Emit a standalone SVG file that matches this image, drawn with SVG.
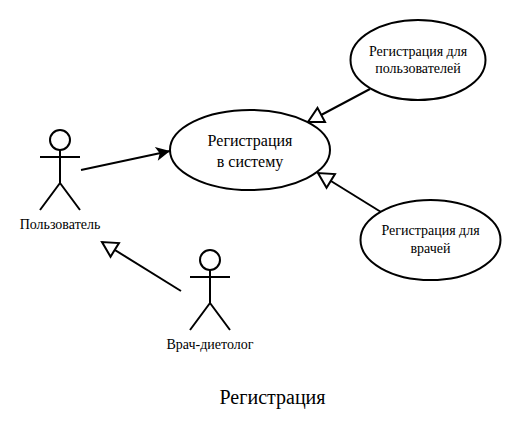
<svg xmlns="http://www.w3.org/2000/svg" width="532" height="436" viewBox="0 0 532 436">
<style>
.s{fill:#fff;stroke:#000;stroke-width:2}
.l{fill:none;stroke:#000;stroke-width:2}
text{font-family:"Liberation Serif","Times New Roman",serif;fill:#000;text-anchor:middle}
.t{font-size:14px}
.m{font-size:16px}
</style>
<defs>
<marker id="h" markerUnits="userSpaceOnUse" viewBox="0 0 20 20" refX="17" refY="10" markerWidth="20" markerHeight="20" orient="auto"><path d="M2 2L17 10L2 18Z" fill="#fff" stroke="#000" stroke-width="2"/></marker>
<marker id="a" markerUnits="userSpaceOnUse" viewBox="0 0 16 16" refX="15" refY="8" markerWidth="16" markerHeight="16" orient="auto"><path d="M1 1L15 8L1 15L4.500 8Z" fill="#000"/></marker>
</defs>
<g id="connectors">
<path class="l" d="M81 170L170 151" marker-end="url(#a)"/>
<path class="l" d="M370 89L308 122" marker-end="url(#h)"/>
<path class="l" d="M381 212L318 173" marker-end="url(#h)"/>
<path class="l" d="M181 291L102 242" marker-end="url(#h)"/>
</g>
<g id="uc-main"><ellipse class="s" cx="250" cy="150" rx="80" ry="40"/><text class="m" x="250" y="146">Регистрация</text><text class="m" x="250" y="167">в систему</text></g>
<g id="uc-users"><ellipse class="s" cx="418" cy="60" rx="67.500" ry="40"/><text class="t" x="418" y="56">Регистрация для</text><text class="t" x="418" y="73">пользователей</text></g>
<g id="uc-doctors"><ellipse class="s" cx="430.500" cy="240" rx="70" ry="40"/><text class="t" x="430.500" y="235">Регистрация для</text><text class="t" x="430.500" y="253">врачей</text></g>
<g id="actor-user"><circle class="s" cx="60" cy="140" r="10"/><path class="l" d="M60 150V183M40 157H80M60 183L40 210M60 183L80 210"/><text class="t" x="60" y="229">Пользователь</text></g>
<g id="actor-doctor"><circle class="s" cx="210" cy="260" r="10"/><path class="l" d="M210 270V303M190 277H230M210 303L190 330M210 303L230 330"/><text class="t" x="210" y="349">Врач-диетолог</text></g>
<text x="272.500" y="404" font-size="20">Регистрация</text>
</svg>
